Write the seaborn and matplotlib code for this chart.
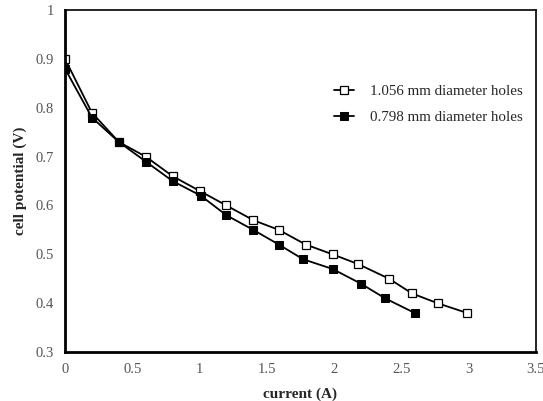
import matplotlib
matplotlib.use("Agg")
import matplotlib.pyplot as plt
import seaborn as sns
import pandas as pd
from matplotlib.ticker import MultipleLocator

# data
x_large = [0, 0.2, 0.4, 0.6, 0.8, 1.0, 1.2, 1.4, 1.59, 1.79, 1.99, 2.18, 2.41, 2.58, 2.77, 2.99]
y_large = [0.90, 0.79, 0.73, 0.70, 0.66, 0.63, 0.60, 0.57, 0.55, 0.52, 0.50, 0.48, 0.45, 0.42, 0.40, 0.38]
x_small = [0, 0.2, 0.4, 0.6, 0.8, 1.01, 1.2, 1.4, 1.59, 1.77, 1.99, 2.2, 2.38, 2.6]
y_small = [0.88, 0.78, 0.73, 0.69, 0.65, 0.62, 0.58, 0.55, 0.52, 0.49, 0.47, 0.44, 0.41, 0.38]
labels = ["1.056 mm diameter holes", "0.798 mm diameter holes"]

sns.set_style("white")
plt.rcParams['font.family'] = ['Liberation Serif', 'DejaVu Serif']

fig = plt.figure(figsize=(5.43, 4.01), dpi=100)
ax = fig.add_axes([0.1197, 0.122, 0.867, 0.853])

df_l = pd.DataFrame({"x": x_large, "y": y_large})
df_s = pd.DataFrame({"x": x_small, "y": y_small})

sns.lineplot(data=df_l, x="x", y="y", ax=ax, color="black", lw=1.3, marker="s",
             markersize=6, markerfacecolor="white", markeredgecolor="black",
             markeredgewidth=0.9, sort=False, estimator=None, label=labels[0])
sns.lineplot(data=df_s, x="x", y="y", ax=ax, color="black", lw=1.3, marker="s",
             markersize=6, markerfacecolor="black", markeredgecolor="black",
             sort=False, estimator=None, label=labels[1])

ax.set_xlim(0, 3.5)
ax.set_ylim(0.3, 1.0)
ax.xaxis.set_major_locator(MultipleLocator(0.5))
ax.xaxis.set_minor_locator(MultipleLocator(0.25))
ax.yaxis.set_major_locator(MultipleLocator(0.1))
ax.yaxis.set_minor_locator(MultipleLocator(0.05))
ax.set_xticklabels([f"{v:g}" for v in ax.get_xticks()])
ax.set_yticklabels([f"{v:g}" for v in ax.get_yticks()])
ax.tick_params(axis="both", which="both", direction="in", length=3, width=1.2,
               color="black", labelcolor="#555555", labelsize=10.5, pad=8)

for s in ax.spines.values():
    s.set_visible(True)
    s.set_color("black")
    s.set_linewidth(1.2)
ax.spines["left"].set_linewidth(2)
ax.spines["bottom"].set_linewidth(2)

ax.set_xlabel("current (A)", fontweight="bold", fontsize=11, labelpad=8)
ax.set_ylabel("cell potential (V)", fontweight="bold", fontsize=11, labelpad=6)

leg = ax.legend(loc="upper left", bbox_to_anchor=(320 / 543, 1 - 71 / 401),
                bbox_transform=fig.transFigure, frameon=False,
                fontsize=10.8, handlelength=1.35, handletextpad=1.1, labelspacing=0.85)

fig.savefig("out.png", dpi=100)
